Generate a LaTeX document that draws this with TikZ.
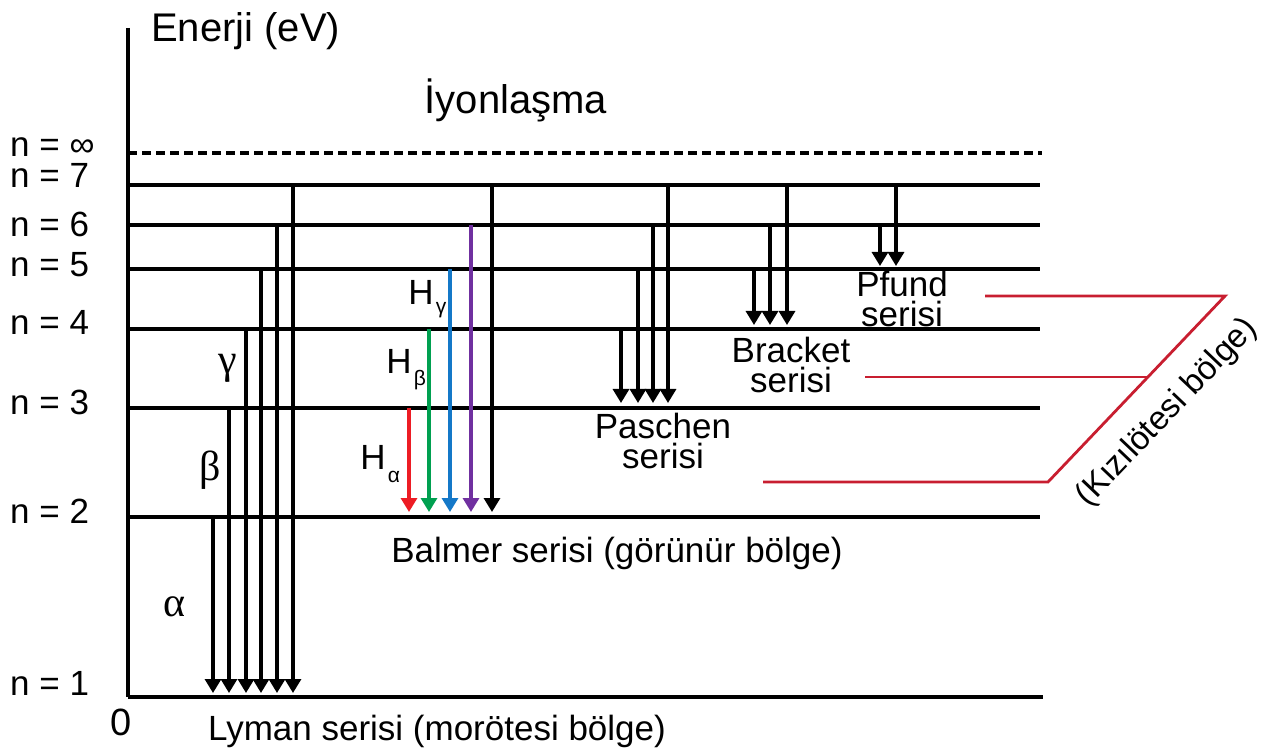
\documentclass[tikz,border=0pt]{standalone}
\usepackage{fontspec}
\setmainfont{Liberation Sans}
\newfontfamily\grk{Liberation Serif}
\usetikzlibrary{arrows.meta,calc}
\definecolor{irred}{RGB}{200,30,48}
\definecolor{hred}{RGB}{237,28,36}
\definecolor{hgreen}{RGB}{0,160,80}
\definecolor{hblue}{RGB}{20,120,200}
\definecolor{hviolet}{RGB}{112,48,160}
\begin{document}
\begin{tikzpicture}[x=1pt,y=-1pt,
  level/.style={line width=3.2pt},
  arr/.style={line width=3.2pt,-{Triangle[width=16pt,length=14pt]}},
  irline/.style={line width=2.8pt,irred},
  txt/.style={inner sep=0pt,font=\fontsize{35}{30}\selectfont},
  big/.style={inner sep=0pt,font=\fontsize{40}{40}\selectfont},
  greek/.style={inner sep=0pt,font=\grk\fontsize{42}{40}\selectfont},
  sub/.style={inner sep=0pt,font=\fontsize{21}{20}\selectfont}]
\useasboundingbox (0,0) rectangle (1262,751);
% level coordinates
\coordinate (Linf) at (128,153);
\coordinate (L7) at (128,185);
\coordinate (L6) at (128,225);
\coordinate (L5) at (128,269);
\coordinate (L4) at (128,329);
\coordinate (L3) at (128,408);
\coordinate (L2) at (128,517);
\coordinate (L1) at (128,697);
\coordinate (Rinf) at (1042,153);
\coordinate (R7) at (1040,185);
\coordinate (R6) at (1040,225);
\coordinate (R5) at (1040,269);
\coordinate (R4) at (1040,329);
\coordinate (R3) at (1040,408);
\coordinate (R2) at (1040,517);
\coordinate (R1) at (1043,697);
\coordinate (Atop) at (128,28);
% arrow end coordinates
\coordinate (E1) at (0,693);
\coordinate (E2) at (0,512);
\coordinate (E3) at (0,403);
\coordinate (E4) at (0,325);
\coordinate (E5) at (0,266);
% axis and levels
\draw[level] (Atop) -- (L1);
\draw[level,dash pattern=on 9pt off 5pt] (Linf) -- (Rinf);
\foreach \n in {7,6,5,4,3,2,1} \draw[level] (L\n) -- (R\n);
% Lyman
\foreach \x/\s in {213/L2,229/L3,246/L4,261/L5,277/L6,293/L7}
  \draw[arr] (\s -| \x,0) -- (E1 -| \x,0);
% Balmer
\draw[arr,hred] (L3 -| 409,0) -- (E2 -| 409,0);
\draw[arr,hgreen] (L4 -| 429,0) -- (E2 -| 429,0);
\draw[arr,hblue] (L5 -| 450,0) -- (E2 -| 450,0);
\draw[arr,hviolet] (L6 -| 471,0) -- (E2 -| 471,0);
\draw[arr] (L7 -| 492,0) -- (E2 -| 492,0);
% Paschen
\foreach \x/\s in {621/L4,638/L5,653/L6,668/L7}
  \draw[arr] (\s -| \x,0) -- (E3 -| \x,0);
% Bracket
\foreach \x/\s in {754/L5,770/L6,787/L7}
  \draw[arr] (\s -| \x,0) -- (E4 -| \x,0);
% Pfund
\foreach \x/\s in {880/L6,896/L7}
  \draw[arr] (\s -| \x,0) -- (E5 -| \x,0);
% level labels
\node[txt,anchor=base west] (ninf) at (10,157) {n = ∞};
\node[txt,anchor=base west] (n7) at (10,188) {n = 7};
\node[txt,anchor=base west] (n6) at (10,237) {n = 6};
\node[txt,anchor=base west] (n5) at (10,277) {n = 5};
\node[txt,anchor=base west] (n4) at (10,335) {n = 4};
\node[txt,anchor=base west] (n3) at (10,415) {n = 3};
\node[txt,anchor=base west] (n2) at (10,523) {n = 2};
\node[txt,anchor=base west] (n1) at (10,695) {n = 1};
\node[txt,font=\fontsize{38}{38}\selectfont] (zero) at (121,722) {0};
% titles
\node[big,anchor=west] (enerji) at (151,31) {Enerji (eV)};
\node[big] (iyon) at (516,100) {İyonlaşma};
\node[txt] (lyman) at (437,731) {Lyman serisi (morötesi bölge)};
\node[txt] (balmer) at (617,553) {Balmer serisi (görünür bölge)};
% greek labels
\node[greek] (gam) at (228,368) {γ};
\node[greek] (bet) at (210,470) {β};
\node[greek] (alp) at (175,607) {α};
% H labels
\node[txt] (Hg) at (421,292) {H};
\node[sub] (Hgs) at (441,310) {γ};
\node[txt] (Hb) at (399,361) {H};
\node[sub] (Hbs) at (420,380) {β};
\node[txt] (Ha) at (373,457) {H};
\node[sub] (Has) at (394,477) {α};
% series labels
\node[txt,align=center] (pfund) at (902,299) {Pfund\\serisi};
\node[txt,align=center] (bracket) at (791,365) {Bracket\\serisi};
\node[txt,align=center] (paschen) at (663,441) {Paschen\\serisi};
% infrared bracket
\coordinate (Ptop) at (1225,296);
\coordinate (Pbot) at (1048,482);
\coordinate (Bmid) at (1148,377);
\draw[irline] (985,296) -- (Ptop) -- (Pbot) -- (763,482);
\draw[irline] (865,377) -- (Bmid);
\node[txt,font=\fontsize{33}{30}\selectfont,rotate=46.4] (kiz) at (1167,413) {(Kızılötesi bölge)};
\end{tikzpicture}
\end{document}
